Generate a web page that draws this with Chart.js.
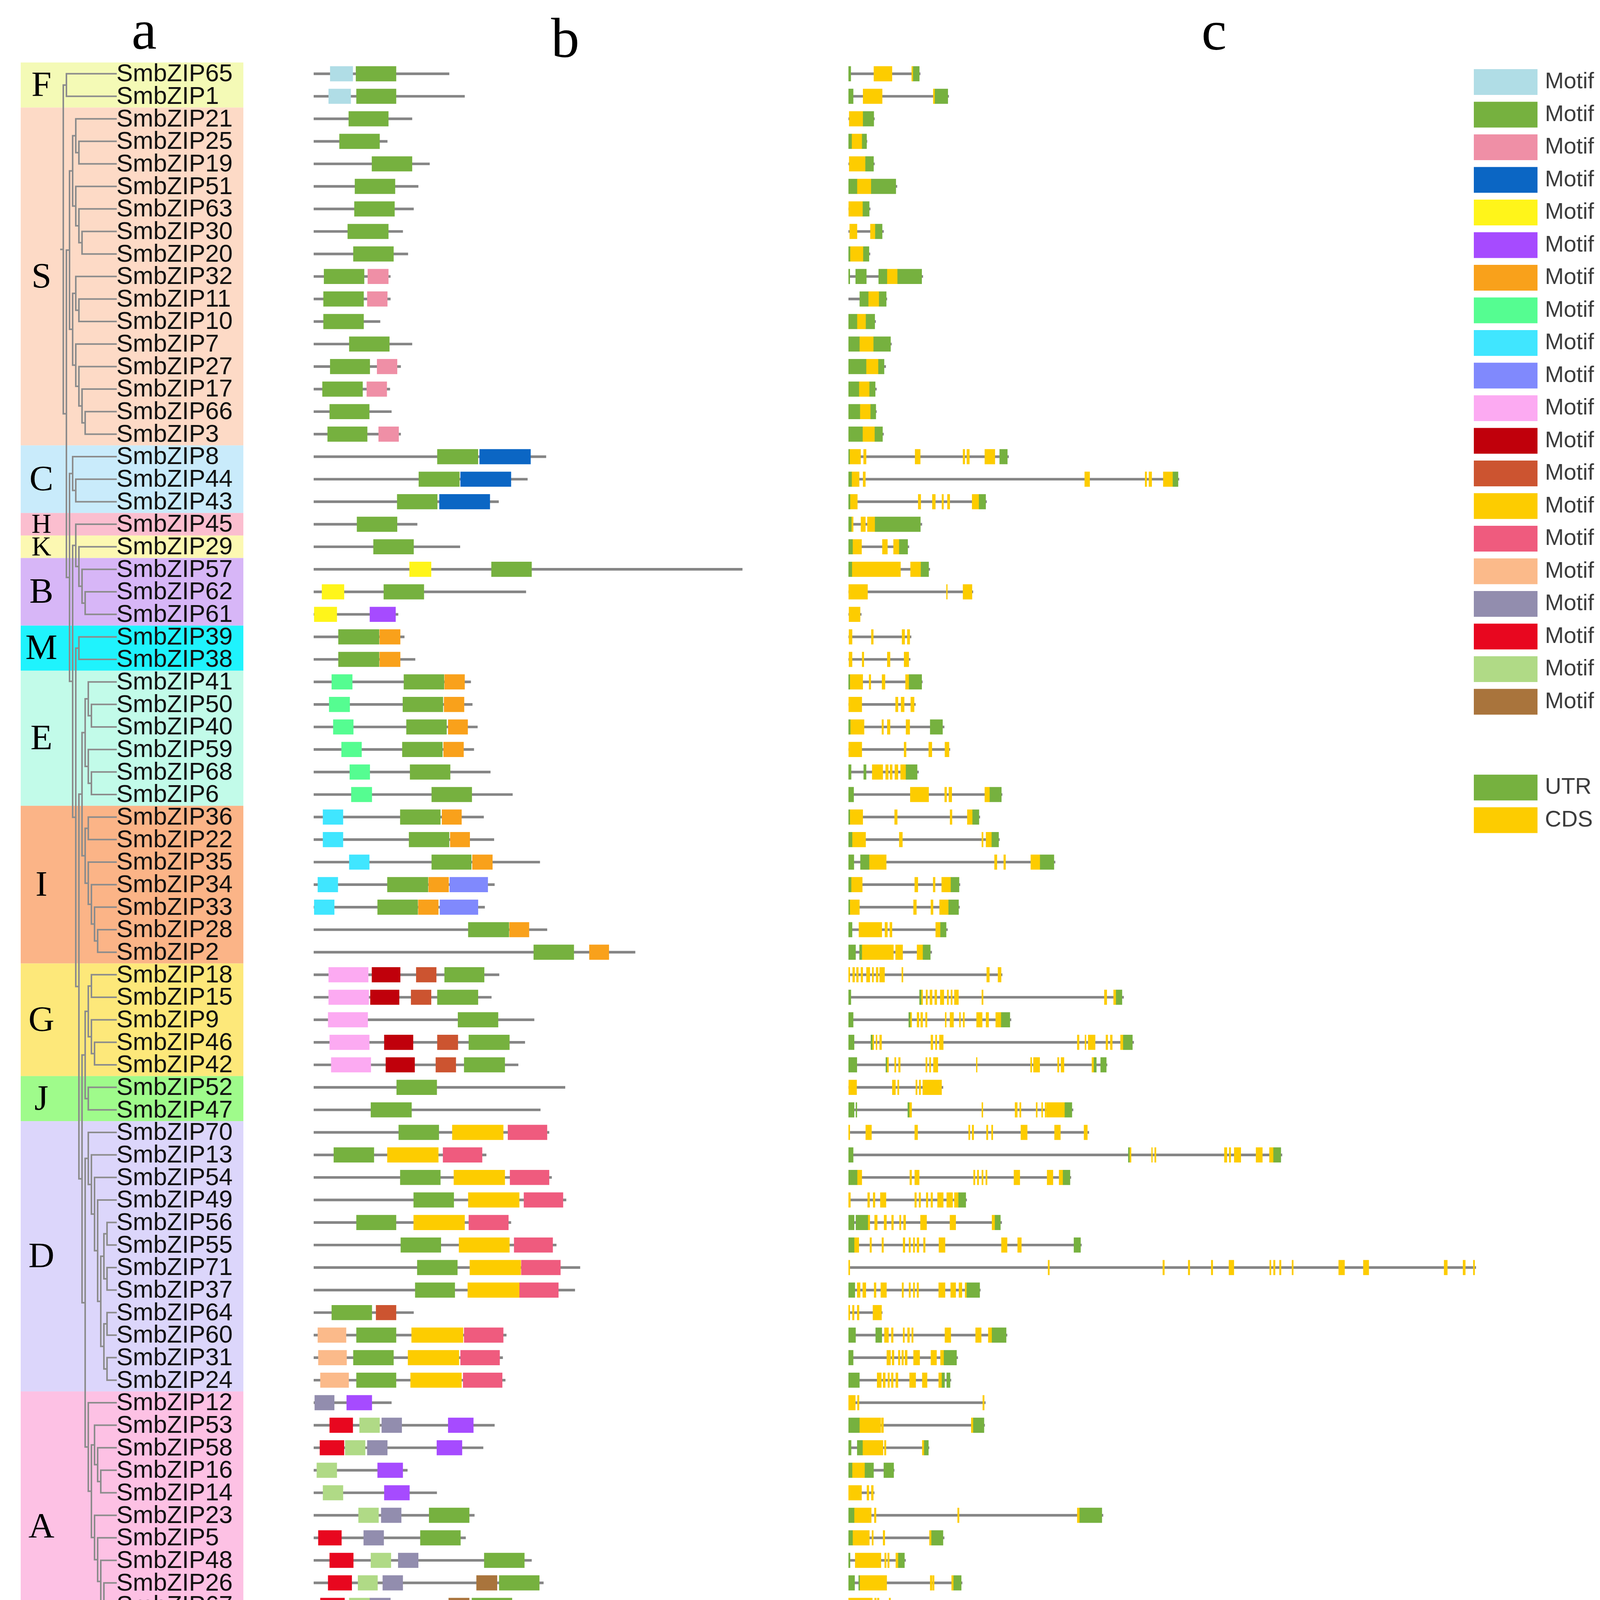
<!DOCTYPE html>
<html>
<head>
<meta charset="utf-8">
<script src="https://cdn.jsdelivr.net/npm/chart.js@4.4.1/dist/chart.umd.min.js"></script>
<style>
  html, body { margin: 0; padding: 0; background: #fff; }
  #wrap { position: relative; width: 4222px; height: 4435px; }
  canvas { position: absolute; left: 0; top: 0; }
</style>
</head>
<body>
<div id="wrap">
  <canvas id="motifChart" width="2200" height="4435"></canvas>
  <canvas id="geneChart" width="4222" height="4435"></canvas>
</div>
<script>
"use strict";

// rows, top to bottom (tree order)
var geneIds = [65,1,21,25,19,51,63,30,20,32,11,10,7,27,17,66,3,8,44,43,45,29,57,62,61,39,38,
  41,50,40,59,68,6,36,22,35,34,33,28,2,18,15,9,46,42,52,47,70,13,54,49,56,55,71,37,64,60,31,24,
  12,53,58,16,14,23,5,48,26,67,69,4];
var genes = geneIds.map(function (n) { return "SmbZIP" + n; });

// subfamilies
var cladeNames  = ["F","S","C","H","K","B","M","E","I","G","J","D","A"];
var cladeSizes  = [2,15,3,1,1,3,2,6,7,5,2,12,12];
var cladeColors = ["#f4fab6","#fddac6","#c9ebfb","#fbbecf","#fcf8b2","#d7b6f7","#1ff3fd",
  "#c2fbe9","#fbb487","#fde87a","#9ffb8b","#dcd6fb","#fdc1e4"];

// tree topology (gene ids)
var treeF = [65, 1];
var treeS = [[[21,[25,19]],[51,[63,[30,20]]]], [[32,[11,10]],[7,[27,[17,[66,3]]]]]];
var treeC = [8,[44,43]];
var treeHKB = [45,[29,[57,[62,61]]]];
var treeM = [39,38];
var treeE = [[41,[50,40]],[59,[68,6]]];
var treeI = [[36,22],[35,[34,[33,[28,2]]]]];
var treeG = [[18,15],[9,[46,42]]];
var treeJ = [52,47];
var treeD = [70,[13,[54,[49,[[[56,55],[71,37]],[[64,60],[31,24]]]]]]];
var treeA = [12,[[53,[58,[16,14]]],[23,[5,[48,[26,[67,[69,4]]]]]]]];
var tree = [treeF, [treeS, [treeC, [treeHKB, [treeM, [[treeE, treeI], [[treeG, treeJ], [treeD, treeA]]]]]]]];

// motifs, legend order
var motifOrder = [13,1,14,15,17,9,8,18,11,19,4,16,12,2,3,10,6,5,7,20];
var motifColors = ["#b0dde6","#76b13f","#ef8fa6","#0b66c4","#fff51a","#a64bff","#f9a11b","#55fd91",
  "#40e6ff","#8089fd","#fcaaf2","#c0000b","#cc5430","#fdcc00","#ef5b7e","#fbba8a","#928dae",
  "#e8071f","#b0da86","#a9743c"];
var utrColor = "#76b13f";
var cdsColor = "#fdcc00";

// protein length (aa)
var proteinLen = [263,293,191,143,225,203,194,173,183,149,149,129,191,169,148,151,169,451,415,359,
  201,284,832,412,164,176,197,305,308,318,311,343,386,330,350,439,351,332,453,624,360,345,428,410,
  397,488,440,457,335,462,490,383,471,517,507,194,374,367,372,151,351,329,182,239,312,295,423,446,
  394,368,418];

// motif sites per protein: [motif, start, end]
var motifSites = [
  [[13,32,76],[1,82,160]],
  [[13,29,72],[1,83,160]],
  [[1,68,145]],
  [[1,50,128]],
  [[1,113,191]],
  [[1,80,158]],
  [[1,79,157]],
  [[1,66,145]],
  [[1,77,155]],
  [[1,20,98],[14,105,145]],
  [[1,19,97],[14,104,143]],
  [[1,19,97]],
  [[1,69,147]],
  [[1,32,109],[14,123,162]],
  [[1,17,95],[14,103,142]],
  [[1,31,108]],
  [[1,27,104],[14,126,165]],
  [[1,240,319],[15,322,421]],
  [[1,204,283],[15,285,383]],
  [[1,162,240],[15,244,342]],
  [[1,84,162]],
  [[1,116,194]],
  [[17,186,228],[1,345,423]],
  [[17,16,59],[1,136,214]],
  [[17,1,45],[9,109,159]],
  [[1,48,127],[8,128,168]],
  [[1,48,127],[8,128,168]],
  [[18,35,75],[1,175,253],[8,254,293]],
  [[18,30,70],[1,173,251],[8,253,292]],
  [[18,38,77],[1,180,258],[8,261,299]],
  [[18,54,93],[1,172,250],[8,252,291]],
  [[18,70,109],[1,187,265]],
  [[18,73,113],[1,229,307]],
  [[11,18,57],[1,168,246],[8,249,287]],
  [[11,18,57],[1,185,263],[8,265,303]],
  [[11,69,108],[1,229,306],[8,308,347]],
  [[11,8,47],[1,143,222],[8,223,262],[19,264,338]],
  [[11,1,40],[1,124,202],[8,203,242],[19,245,319]],
  [[1,300,379],[8,380,418]],
  [[1,427,505],[8,535,573]],
  [[4,29,106],[16,113,168],[12,199,238],[1,254,331]],
  [[4,29,107],[16,110,166],[12,189,228],[1,240,319]],
  [[4,28,105],[1,280,358]],
  [[4,31,108],[16,137,193],[12,240,280],[1,301,380]],
  [[4,34,111],[16,140,196],[12,237,276],[1,292,371]],
  [[1,161,239]],
  [[1,111,190]],
  [[1,165,243],[2,269,368],[3,377,453]],
  [[1,39,117],[2,143,242],[3,251,327]],
  [[1,168,246],[2,272,371],[3,381,457]],
  [[1,194,272],[2,300,399],[3,408,484]],
  [[1,83,160],[2,194,293],[3,301,378]],
  [[1,169,247],[2,282,380],[3,389,464]],
  [[1,201,279],[2,303,402],[3,403,479]],
  [[1,197,274],[2,299,399],[3,399,475]],
  [[1,35,113],[12,121,160]],
  [[10,8,63],[1,83,160],[2,190,290],[3,292,368]],
  [[10,9,64],[1,77,155],[2,183,282],[3,285,361]],
  [[10,13,68],[1,83,160],[2,188,287],[3,290,366]],
  [[6,2,40],[9,64,113]],
  [[5,31,76],[7,89,128],[6,132,171],[9,261,310]],
  [[5,12,59],[7,61,100],[6,104,143],[9,239,288]],
  [[7,6,45],[9,124,173]],
  [[7,18,57],[9,137,186]],
  [[7,87,126],[6,131,170],[1,224,302]],
  [[5,9,54],[6,97,136],[1,207,285]],
  [[5,31,77],[7,111,150],[6,164,203],[1,331,409]],
  [[5,28,74],[7,86,124],[6,134,173],[20,316,356],[1,360,438]],
  [[5,13,60],[7,69,109],[6,109,149],[20,262,302],[1,307,385]],
  [[5,24,71],[7,72,110],[6,120,158],[20,238,277],[1,282,360]],
  [[5,29,75],[7,86,125],[6,135,174],[20,287,327],[1,333,410]]
];

// gene length (bp)
var geneLen = [3000,4190,1090,780,1090,2030,915,1470,905,3110,1610,1140,1800,1560,1175,1175,1470,
  6690,13800,5770,3070,2530,3400,5200,540,2620,2580,3090,2800,4000,4240,2930,6420,5490,6310,8630,
  4660,4640,4140,3480,6420,11490,6790,11910,10800,3950,9380,10040,18100,9290,4940,6400,9730,26190,
  5510,1415,6625,4565,4285,5720,5690,3370,1915,1080,10630,4000,2390,4750,1800,4100,4880];

// UTR blocks per gene: start,end pairs
var utrParts = [
  [0,100,2700,2960],[0,200,3610,4150],[610,1060],[0,135,570,760],[710,1050],[0,360,950,1980],
  [600,870],[1120,1410],[0,70,620,860],[0,60,300,750,1260,1610,2050,3060],[470,830,1280,1580],
  [0,360,730,1100],[0,460,1050,1760],[0,740,1250,1490],[0,440,880,1120],[0,480,925,1145],
  [0,590,1100,1425],[0,50,6310,6635],[0,135,13540,13760],[0,70,5450,5730],[0,125,1110,3005],
  [0,175,2120,2475],[0,145,3025,3350],[],[],[],[],[0,60,2530,3060],[],[0,80,3410,3930],[],
  [0,115,635,740,2400,2870],[0,220,5900,6385],[0,60,5180,5450],[0,155,5980,6270],
  [0,230,500,865,8000,8580],[0,115,4275,4620],[0,60,4180,4600],[0,155,3840,4080],
  [0,300,460,560,3110,3420],[],[0,105,2965,3035,11170,11420],[0,200,2515,2580,6375,6740],
  [0,240,935,1000,11470,11855],[0,355,1560,1610,10245,10350,10525,10765],[],
  [0,240,310,355,2475,2540,9030,9330],[],[0,200,11680,11730,17740,18050],[0,365,8955,9250],
  [4595,4900],[0,240,310,810,6115,6345],[0,240,9410,9690],[],[0,270,4940,5480],[],
  [0,300,1135,1395,5990,6585],[0,200,3985,4515],[0,460,3900,4015,4100,4245],[],
  [0,460,5210,5660],[0,115,365,590,3160,3340],[0,155,685,1050,1475,1890],[],[0,240,9650,10580],
  [0,175,3465,3950],[0,70,2080,2340],[0,260,425,470,4390,4710],[],[0,145,3775,4065],[0,200,3690,4835]
];

// CDS blocks per gene: start,end pairs
var cdsParts = [
  [1060,1820,2640,2700],
  [610,1410,3540,3610],
  [30,610],
  [135,570],
  [30,710],
  [360,950],
  [10,600],
  [50,360,915,1120],
  [70,620],
  [1610,2050],
  [830,1280],
  [360,730],
  [460,1050],
  [740,1250],
  [440,880],
  [480,925],
  [590,1100],
  [50,510,630,740,2780,3000,4780,4860,4940,5050,5690,6115],
  [135,450,610,710,9860,10070,12380,12450,12540,12660,13140,13540],
  [70,375,2910,3020,3500,3630,3900,3970,4130,4230,5160,5450],
  [125,200,520,710,790,1110],
  [175,550,1415,1630,1880,2120],
  [145,2175,2590,3025],
  [10,800,4090,4130,4780,5160],
  [20,490],
  [20,155,955,1040,2235,2350,2455,2560],
  [20,155,570,645,1620,1740,2320,2520],
  [60,600,860,935,1400,1530,2380,2530],
  [10,560,1965,2070,2195,2330,2600,2745],
  [80,655,1395,1465,1620,1740,2400,2560],
  [10,560,2320,2410,3350,3485,4025,4200],
  [990,1435,1550,1665,1735,1830,1935,2070,2175,2400],
  [2580,3350,4015,4100,4190,4315,5690,5900],
  [60,600,1925,2040,4240,4325,4960,5180],
  [155,720,2120,2255,5565,5625,5740,5980],
  [865,1580,6095,6200,6480,6560,7610,8000],
  [115,580,2765,2900,3535,3620,3890,4275],
  [60,460,2715,2840,3440,3535,3800,4180],
  [435,1395,1520,1630,1725,1820,3640,3840],
  [560,1880,1965,2265,2860,3110],
  [0,60,175,260,335,415,520,600,750,895,990,1050,1155,1240,1300,1510,2225,2280,5770,5885,6240,6375],
  [3035,3100,3235,3300,3400,3495,3600,3690,3830,3985,4120,4180,4275,4335,4420,4595,5565,5625,10680,10785,11065,11170],
  [2580,2640,2860,2945,3015,3100,3215,3285,4035,4085,4235,4390,4630,4680,4785,4845,5345,5585,5740,5855,6145,6375],
  [1000,1060,1145,1195,1300,1385,3440,3525,3630,3690,3795,3960,9550,9630,9870,9920,10005,10300,10745,10825,10930,11015,11355,11470],
  [1610,1675,1925,1985,2090,2165,3225,3285,3380,3440,3545,3735,5335,5375,7600,7655,7720,7985,8725,8790,8870,9000,10160,10245],
  [10,345,1830,1965,2050,2110,2810,2870,2950,3015,3100,3890],
  [2540,2640,5565,5615,6950,7050,7145,7205,7830,7885,8060,8110,8205,8245,8260,9030],
  [0,60,720,965,2765,2890,5015,5075,5160,5230,5760,5825,5970,6030,7195,7465,8600,8850,9830,9975],
  [11730,11800,12650,12690,12780,12840,15690,15800,15890,15960,16100,16380,17010,17280,17570,17740],
  [365,560,2560,2640,2765,2955,5220,5285,5375,5440,5565,5625,5730,5790,6905,7155,8290,8540,8790,8955],
  [0,85,800,885,1030,1110,1330,1570,2765,2840,2945,3015,3245,3320,3440,3515,3715,3960,4100,4350,4420,4595],
  [810,895,1090,1205,1485,1590,1800,1880,2130,2195,2300,2390,3005,3265,4235,4480,5990,6115],
  [240,435,895,965,1395,1465,2280,2360,2525,2590,2705,2765,2860,2945,3130,3205,3775,4035,6385,6625,7060,7220],
  [0,60,8330,8390,13120,13190,14180,14250,15140,15210,15880,16090,17580,17640,17740,17810,17990,18060,18510,18570,20460,20710,21490,21720,24860,25000,25650,25750,26080,26140],
  [365,490,595,730,1070,1155,1350,1590,2235,2300,2525,2590,2705,2765,2860,2930,3765,4035,4265,4480,4610,4740,4865,4940],
  [0,60,165,240,365,445,1020,1385],
  [1500,1675,1790,1870,2280,2340,2465,2550,2640,2705,4025,4275,5305,5545,5835,5990],
  [1600,1760,1820,1905,2080,2155,2225,2300,2360,2455,2715,2975,3440,3680,3840,3985],
  [1195,1375,1445,1540,1645,1715,1790,1870,1975,2070,2550,2810,3080,3285,3765,3900],
  [0,290,375,445,5605,5670],
  [460,1350,1375,1465,5125,5210],
  [590,1445,1500,1570,3080,3160],
  [155,685],
  [0,550,770,855,955,1040],
  [240,955,1080,1155,4555,4620,9550,9650],
  [175,875,980,1040,1445,1520,3380,3465],
  [280,1360,1510,1580,1635,1705,1975,2080],
  [470,1600,3410,3495,3515,3580,4305,4390],
  [0,1000,1090,1165,1205,1280,1695,1760],
  [1350,2280,2820,2900,2965,3025,3690,3775],
  [1280,2370,3070,3130,3200,3255,3590,3690]
];

var FONT = '"Liberation Sans", Arial, sans-serif';
var SERIF = '"Liberation Serif", "Times New Roman", serif';
var AXIS_Y = 4284;

function pairsToBars(parts) {
  var out = [];
  parts.forEach(function (p, i) {
    for (var k = 0; k + 1 < p.length; k += 2) {
      out.push({ y: genes[i], x: [p[k], p[k + 1]] });
    }
  });
  return out;
}

// axis line + tick marks, placed a little below the plot like the original
var axisLinePlugin = {
  id: "axisLine",
  afterDraw: function (chart) {
    var ctx = chart.ctx, s = chart.scales.x;
    ctx.save();
    ctx.strokeStyle = "#8a8a8a";
    ctx.lineWidth = 6;
    ctx.beginPath();
    ctx.moveTo(s.getPixelForValue(s.min) - 2, AXIS_Y);
    ctx.lineTo(s.getPixelForValue(s.max) + 2, AXIS_Y);
    ctx.stroke();
    ctx.lineWidth = 3;
    s.ticks.forEach(function (t) {
      var px = s.getPixelForValue(t.value);
      ctx.beginPath();
      ctx.moveTo(px, AXIS_Y);
      ctx.lineTo(px, AXIS_Y + 22);
      ctx.stroke();
    });
    ctx.restore();
  }
};

function drawText(ctx, txt, x, y, font, color, align, base) {
  ctx.font = font;
  ctx.fillStyle = color;
  ctx.textAlign = align;
  ctx.textBaseline = base;
  ctx.fillText(txt, x, y);
}

// clade boxes, tree, gene names, subfamily letters
var treePlugin = {
  id: "tree",
  beforeDraw: function (chart) {
    var ctx = chart.ctx, ys = chart.scales.y;
    var band = ys.getPixelForValue(1) - ys.getPixelForValue(0);
    var start = 0;
    ctx.save();
    cladeSizes.forEach(function (n, c) {
      var top = ys.getPixelForValue(start) - band / 2;
      var bot = ys.getPixelForValue(start + n - 1) + band / 2;
      ctx.fillStyle = cladeColors[c];
      ctx.fillRect(53, top, 570, bot - top);
      start += n;
    });
    ctx.restore();
  },
  afterDraw: function (chart) {
    var ctx = chart.ctx, ys = chart.scales.y;
    var leafX = 297, rootX = 162, stepX = 8;
    ctx.save();
    ctx.strokeStyle = "#8c8c8c";
    ctx.lineWidth = 4;
    ctx.lineCap = "square";
    ctx.beginPath();
    function walk(node, depth) {
      if (typeof node === "number") {
        return { x: leafX, y: ys.getPixelForValue(geneIds.indexOf(node)) };
      }
      var kids = node.map(function (c) { return walk(c, depth + 1); });
      var x = rootX + depth * stepX;
      var y0 = kids[0].y, y1 = kids[kids.length - 1].y;
      ctx.moveTo(x, y0); ctx.lineTo(x, y1);
      kids.forEach(function (k) { ctx.moveTo(x, k.y); ctx.lineTo(k.x, k.y); });
      return { x: x, y: (y0 + y1) / 2 };
    }
    var r = walk(tree, 0);
    ctx.moveTo(r.x - 6, r.y); ctx.lineTo(r.x, r.y);
    ctx.stroke();

    genes.forEach(function (g, i) {
      drawText(ctx, g, 298, ys.getPixelForValue(i) + 2, "63px " + FONT, "#111", "left", "middle");
    });

    var start = 0;
    cladeSizes.forEach(function (n, c) {
      var yc = (ys.getPixelForValue(start) + ys.getPixelForValue(start + n - 1)) / 2;
      var size = n === 1 ? 70 : 92;
      drawText(ctx, cladeNames[c], 106, yc + 4, size + "px " + SERIF, "#000", "center", "middle");
      start += n;
    });

    drawText(ctx, "a", 369, 125, "145px " + SERIF, "#000", "center", "alphabetic");
    drawText(ctx, "b", 1447, 146, "145px " + SERIF, "#000", "center", "alphabetic");
    drawText(ctx, "5'", 801, 4276, "58px " + FONT, "#000", "right", "middle");
    drawText(ctx, "5'", 2105, 4276, "58px " + FONT, "#000", "center", "middle");
    ctx.restore();
  }
};

// legend for motifs and gene features
var legendPlugin = {
  id: "featureLegend",
  afterDraw: function (chart) {
    var ctx = chart.ctx;
    var x0 = 3773, y0 = 210, step = 83.5;
    ctx.save();
    motifOrder.forEach(function (m, i) {
      var yc = y0 + i * step;
      ctx.fillStyle = motifColors[i];
      ctx.fillRect(x0, yc - 33, 163, 66);
      drawText(ctx, "Motif " + m, 3955, yc, "58px " + FONT, "#3c3c3c", "left", "middle");
    });
    [["UTR", utrColor], ["CDS", cdsColor]].forEach(function (it, j) {
      var yc = y0 + (21.63 + j) * step;
      ctx.fillStyle = it[1];
      ctx.fillRect(x0, yc - 33, 163, 66);
      drawText(ctx, it[0], 3955, yc, "58px " + FONT, "#3c3c3c", "left", "middle");
    });
    drawText(ctx, "c", 3108, 127, "145px " + SERIF, "#000", "center", "alphabetic");
    drawText(ctx, "3'", 2192, 4276, "58px " + FONT, "#000", "center", "middle");
    drawText(ctx, "3'", 4045, 4276, "58px " + FONT, "#000", "center", "middle");
    ctx.restore();
  }
};

function baseOptions(padLeft, padRight, xMax, step, align) {
  return {
    indexAxis: "y",
    responsive: false,
    animation: false,
    devicePixelRatio: 1,
    layout: { padding: { left: padLeft, right: padRight, top: 160, bottom: 51 } },
    plugins: { legend: { display: false }, tooltip: { enabled: false } },
    scales: {
      y: { type: "category", display: false, offset: true, grid: { display: false } },
      x: {
        type: "linear", position: "bottom", min: 0, max: xMax,
        grid: { display: false }, border: { display: false },
        ticks: {
          stepSize: step, padding: 46, align: align, color: "#000", autoSkip: false, maxRotation: 0,
          font: { size: 58, family: FONT },
          callback: function (v) { return Number(v).toLocaleString("en-US"); }
        },
        afterFit: function (s) { s.height = 130; }
      }
    }
  };
}

// panel b: conserved motifs
var motifDatasets = [{
  label: "protein",
  data: proteinLen.map(function (L, i) { return { y: genes[i], x: [-3, L] }; }),
  backgroundColor: "#858585", barThickness: 6, grouped: false, order: 10
}];
motifOrder.forEach(function (m, k) {
  var pts = [];
  motifSites.forEach(function (sites, i) {
    sites.forEach(function (s) { if (s[0] === m) pts.push({ y: genes[i], x: [s[1], s[2]] }); });
  });
  motifDatasets.push({
    label: "Motif " + m, data: pts, backgroundColor: motifColors[k],
    barThickness: 38, grouped: false, order: 1
  });
});

new Chart(document.getElementById("motifChart"), {
  type: "bar",
  data: { labels: genes, datasets: motifDatasets },
  options: baseOptions(803, 78, 1000, 200, "inner"),
  plugins: [treePlugin, axisLinePlugin]
});

// panel c: gene structure
new Chart(document.getElementById("geneChart"), {
  type: "bar",
  data: {
    labels: genes,
    datasets: [
      { label: "gene", data: geneLen.map(function (L, i) { return { y: genes[i], x: [-60, L] }; }),
        backgroundColor: "#858585", barThickness: 6, grouped: false, order: 10 },
      { label: "UTR", data: pairsToBars(utrParts), backgroundColor: utrColor,
        barThickness: 38, grouped: false, order: 1 },
      { label: "CDS", data: pairsToBars(cdsParts), backgroundColor: cdsColor,
        barThickness: 38, grouped: false, order: 1 }
    ]
  },
  options: baseOptions(2172, 210, 30000, 5000, "center"),
  plugins: [legendPlugin, axisLinePlugin]
});
</script>
</body>
</html>
